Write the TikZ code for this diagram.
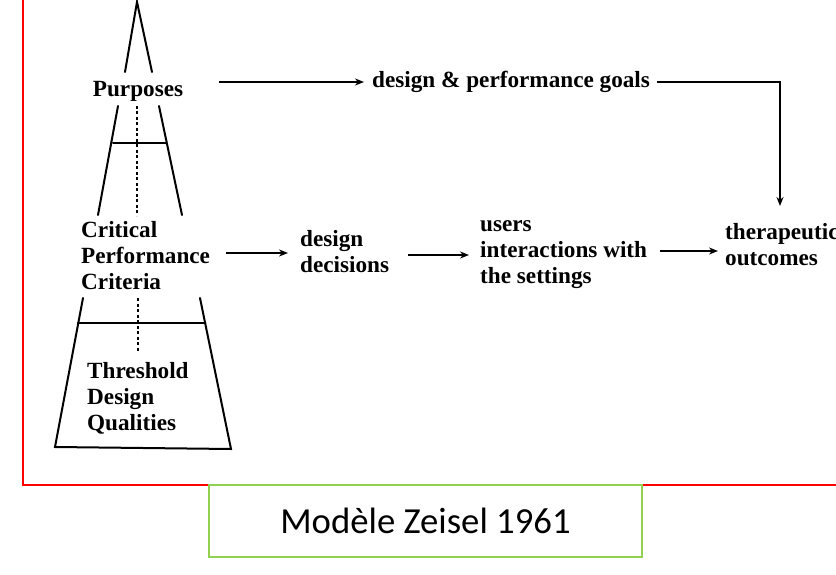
\documentclass[tikz,border=0pt]{standalone}
\usepackage{fontspec}
\setmainfont{Liberation Serif}
\newfontfamily\capfont{Carlito}
\usetikzlibrary{arrows.meta}
\tikzset{
  lbl/.style={anchor=base west, inner sep=0pt, font=\fontsize{23.2}{26}\selectfont\bfseries},
  arr/.style={line width=2.3pt, -{Stealth[length=9pt,width=7pt]}},
  edge/.style={line width=2pt, line cap=round},
  dots/.style={line width=1.5pt, dash pattern=on 3pt off 2.5pt},
}
\begin{document}
\begin{tikzpicture}[x=1pt,y=-1pt]
\useasboundingbox (0,0) rectangle (836,575);
\clip (0,0) rectangle (836,575);
% red frame
\draw[red, line width=1.5pt] (23,-10) rectangle (850,485);
% caption box
\node[draw={rgb,255:red,146;green,208;blue,80}, fill=white, line width=1.5pt,
      minimum width=433pt, minimum height=72pt, inner sep=0pt,
      font=\capfont\fontsize{36.7}{40}\selectfont] (cap) at (425.5,521) {Modèle Zeisel 1961};
% funnel shapes
\draw[edge] (125,72) -- (137,2) -- (152,72);
\draw[edge] (118,106) -- (98,215);
\draw[edge] (159,106) -- (182,215);
\draw[edge] (113,143) -- (166,143);
\draw[dots] (137,106) -- (137,216);
\draw[edge] (83,298) -- (55,447) -- (231,449) -- (200,298);
\draw[edge] (78,323) -- (205,323);
\draw[dots] (138,298) -- (138,352);
% texts
\node[lbl, anchor=base] (purp) at (138,97) {Purposes};
\node[lbl] (goals) at (372,88) {design \& performance goals};
\node[lbl] (crit) at (81,237) {\begin{tabular}[t]{@{}l@{}}Critical\\Performance\\Criteria\end{tabular}};
\node[lbl] (thr) at (87,378) {\begin{tabular}[t]{@{}l@{}}Threshold\\Design\\Qualities\end{tabular}};
\node[lbl] (dd) at (300,247) {\begin{tabular}[t]{@{}l@{}}design\\decisions\end{tabular}};
\node[lbl] (users) at (480,232) {\begin{tabular}[t]{@{}l@{}}users\\interactions with\\the settings\end{tabular}};
\node[lbl] (ther) at (725,240) {\begin{tabular}[t]{@{}l@{}}therapeutic\\outcomes\end{tabular}};
% connector end points
\coordinate (a1s) at (219,82);  \coordinate (a1e) at (364,82);
\coordinate (a2s) at (657,82);  \coordinate (a2e) at (780,206);
\coordinate (a3s) at (226,253); \coordinate (a3e) at (288,253);
\coordinate (a4s) at (408,255); \coordinate (a4e) at (469,255);
\coordinate (a5s) at (660,251); \coordinate (a5e) at (718,251);
\draw[arr] (a1s) -- (a1e);
\draw[arr] (a2s) -| (a2e);
\draw[arr] (a3s) -- (a3e);
\draw[arr] (a4s) -- (a4e);
\draw[arr] (a5s) -- (a5e);
\end{tikzpicture}
\end{document}
